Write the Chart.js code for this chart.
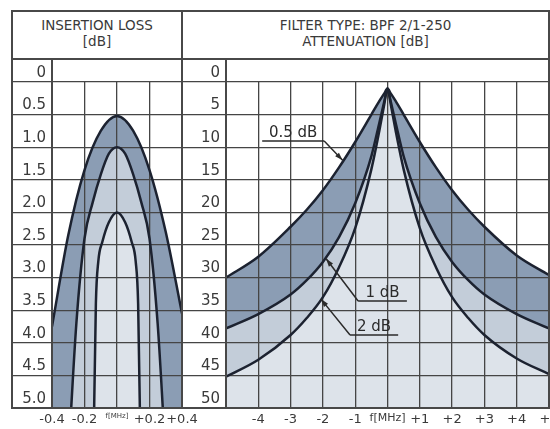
<!DOCTYPE html>
<html>
<head>
<meta charset="utf-8">
<script src="https://cdn.jsdelivr.net/npm/chart.js@4.4.1/dist/chart.umd.min.js"></script>
<style>
  body { margin: 0; background: #fff; width: 550px; height: 429px; overflow: hidden; position: relative;
         font-family: "DejaVu Sans", sans-serif; color: #3a3a3a; }
  .line { position: absolute; background: #484848; z-index: 2; }
  .head { position: absolute; top: 17px; text-align: center; font-size: 13.5px; line-height: 16px; z-index: 2; }
  .box { position: absolute; top: 59px; height: 370px; z-index: 1; }
</style>
</head>
<body>
<div class="head" style="left:12px;width:170px">INSERTION LOSS<br>[dB]</div>
<div class="head" style="left:182px;width:367px">FILTER TYPE: BPF 2/1-250<br>ATTENUATION [dB]</div>

<div class="line" style="left:11px;top:10px;width:539px;height:2px"></div>
<div class="line" style="left:11px;top:407px;width:539px;height:2px"></div>
<div class="line" style="left:11px;top:10px;width:2px;height:399px"></div>
<div class="line" style="left:548px;top:10px;width:2px;height:399px"></div>
<div class="line" style="left:11px;top:58px;width:539px;height:2px"></div>
<div class="line" style="left:181px;top:10px;width:2px;height:399px"></div>
<div class="line" style="left:51px;top:59px;width:2px;height:350px"></div>
<div class="line" style="left:225px;top:59px;width:2px;height:350px"></div>

<div class="box" style="left:0;width:200px"><canvas id="lossChart"></canvas></div>
<div class="box" style="left:182px;width:368px"><canvas id="attChart"></canvas></div>

<script>
// insertion loss [dB] vs f offset [MHz]
const lossFreq05 = [-0.4, -0.3, -0.2, -0.1, 0, 0.1, 0.2, 0.3, 0.4];
const loss05 = [3.75, 2.35, 1.35, 0.75, 0.52, 0.75, 1.35, 2.3, 3.55];
const lossFreq1 = [-0.3, -0.25, -0.2, -0.15, -0.1, -0.05, 0, 0.05, 0.1, 0.15, 0.2, 0.25, 0.3];
const loss1 = [5.8, 3.7, 2.4, 1.85, 1.42, 1.1, 1.0, 1.1, 1.42, 1.85, 2.4, 3.7, 5.8];
const lossFreq2 = [-0.15, -0.14, -0.13, -0.115, -0.09, -0.05, 0, 0.05, 0.09, 0.115, 0.13, 0.14, 0.15];
const loss2 = [7.0, 4.9, 3.4, 2.75, 2.45, 2.15, 2.0, 2.15, 2.45, 2.75, 3.4, 4.9, 7.0];

const lossTicks = [0, 0.5, 1, 1.5, 2, 2.5, 3, 3.5, 4, 4.5, 5];
const lossTickLabels = ['0', '0.5', '1.0', '1.5', '2.0', '2.5', '3.0', '3.5', '4.0', '4.5', '5.0'];
const lossFreqTicks = [-0.4, -0.2, 0, 0.2, 0.4];
const lossFreqLabels = ['-0.4', '-0.2', 'f[MHz]', '+0.2', '+0.4'];

// attenuation [dB] vs f offset [MHz]
const attFreq = [-5, -4, -3, -2.5, -2, -1.5, -1, -0.5, -0.25, -0.1, 0, 0.1, 0.25, 0.5, 1, 1.5, 2, 2.5, 3, 4, 5];
const att05 = [30, 26.8, 22.2, 19.6, 16.6, 13.1, 9.2, 5.0, 2.9, 1.75, 1.0, 1.75, 2.9, 5.0, 9.2, 13.1, 16.6, 19.6, 22.2, 26.6, 29.6];
const att1 = [37.8, 35.6, 32.6, 30.4, 27.6, 23.8, 18.6, 11.4, 6.2, 3.0, 1.0, 3.0, 6.2, 11.4, 18.6, 23.8, 27.6, 30.4, 32.6, 35.6, 37.8];
const att2 = [45.2, 42.6, 38.8, 36.2, 33.0, 28.4, 22.4, 13.4, 7.4, 3.4, 1.0, 3.4, 7.4, 13.4, 22.4, 28.4, 33.0, 36.2, 38.8, 42.4, 44.8];

const attTicks = [0, 5, 10, 15, 20, 25, 30, 35, 40, 45, 50];
const attTickLabels = ['0', '5', '10', '15', '20', '25', '30', '35', '40', '45', '50'];
const attFreqTicks = [-5, -4, -3, -2, -1, 0, 1, 2, 3, 4, 5];
const attFreqLabels = ['', '-4', '-3', '-2', '-1', 'f[MHz]', '+1', '+2', '+3', '+4', '+5'];

const attNotes = [
    { text: '0.5 dB', x0: -3.88, x1: -1.96, y: 9.05, from: 'end', tipX: -1.39, tipY: 12.0 },
    { text: '1 dB', x0: -0.91, x1: 0.6, y: 33.6, from: 'start', tipX: -1.9, tipY: 27.1 },
    { text: '2 dB', x0: -1.16, x1: 0.33, y: 38.8, from: 'start', tipX: -2.06, tipY: 33.3 }
];

const DARK = '#8b9db4';
const MID = '#c3cdd9';
const LIGHT = '#dde3ea';
const CURVE = '#1c2230';
const GRID = '#454545';
const FONT = '"DejaVu Sans", sans-serif';

function pts(xs, ys) {
    return xs.map((x, i) => ({ x: x, y: ys[i] }));
}

function curve(xs, ys, color) {
    return {
        data: pts(xs, ys),
        borderColor: CURVE,
        borderWidth: 2.5,
        backgroundColor: color,
        fill: 'start',
        pointRadius: 0,
        cubicInterpolationMode: 'monotone'
    };
}

function makeOptions(o) {
    return {
        responsive: true,
        maintainAspectRatio: false,
        animation: false,
        layout: { padding: { left: o.padLeft, right: o.padRight, top: 23, bottom: 0 } },
        plugins: {
            legend: { display: false },
            tooltip: { enabled: false },
            filler: { drawTime: 'beforeDraw' }
        },
        scales: {
            x: {
                type: 'linear',
                min: o.xTicks[0],
                max: o.xTicks[o.xTicks.length - 1],
                afterBuildTicks: s => { s.ticks = o.xTicks.map(v => ({ value: v })); },
                afterFit: s => { s.height = 21; s.paddingLeft = 0; s.paddingRight = 0; },
                border: { display: false },
                grid: { color: GRID, lineWidth: 1.3, drawTicks: false },
                ticks: {
                    autoSkip: false,
                    maxRotation: 0,
                    minRotation: 0,
                    padding: 4,
                    color: '#3a3a3a',
                    font: ctx => ({ family: FONT, size: ctx.index === o.xTicks.indexOf(0) ? o.midFont : 13 }),
                    callback: (v, i) => o.xLabels[i]
                }
            },
            y: {
                type: 'linear',
                reverse: true,
                min: o.yTicks[0],
                max: o.yTicks[o.yTicks.length - 1],
                afterBuildTicks: s => { s.ticks = o.yTicks.map(v => ({ value: v })); },
                afterFit: s => { s.width = o.yWidth; s.paddingTop = 0; s.paddingBottom = 0; },
                border: { display: false },
                grid: { color: GRID, lineWidth: 1.3, tickLength: o.yWidth },
                ticks: {
                    padding: 6 - o.yWidth,
                    labelOffset: -9,
                    color: '#3a3a3a',
                    font: { family: FONT, size: 15 },
                    callback: (v, i) => o.yLabels[i]
                }
            }
        }
    };
}

const notesPlugin = {
    id: 'notes',
    afterDatasetsDraw(chart) {
        const { ctx, scales: { x, y } } = chart;
        ctx.save();
        ctx.strokeStyle = '#2b2b2b';
        ctx.fillStyle = '#2b2b2b';
        ctx.lineWidth = 1.5;
        ctx.font = '15px ' + FONT;
        ctx.textAlign = 'center';
        attNotes.forEach(n => {
            const x0 = x.getPixelForValue(n.x0);
            const x1 = x.getPixelForValue(n.x1);
            const yl = y.getPixelForValue(n.y);
            const sx = n.from === 'end' ? x1 : x0;
            const tx = x.getPixelForValue(n.tipX);
            const ty = y.getPixelForValue(n.tipY);
            ctx.beginPath();
            ctx.moveTo(x0, yl);
            ctx.lineTo(x1, yl);
            ctx.moveTo(sx, yl);
            ctx.lineTo(tx, ty);
            ctx.stroke();
            // arrow head
            const a = Math.atan2(ty - yl, tx - sx);
            ctx.beginPath();
            ctx.moveTo(tx, ty);
            ctx.lineTo(tx - 8 * Math.cos(a) + 2.6 * Math.sin(a), ty - 8 * Math.sin(a) - 2.6 * Math.cos(a));
            ctx.lineTo(tx - 8 * Math.cos(a) - 2.6 * Math.sin(a), ty - 8 * Math.sin(a) + 2.6 * Math.cos(a));
            ctx.closePath();
            ctx.fill();
            ctx.fillText(n.text, (x0 + x1) / 2, yl - 4);
        });
        ctx.restore();
    }
};

new Chart(document.getElementById('lossChart'), {
    type: 'line',
    data: {
        datasets: [
            curve(lossFreq2, loss2, LIGHT),
            curve(lossFreq1, loss1, MID),
            curve(lossFreq05, loss05, DARK)
        ]
    },
    options: makeOptions({
        padLeft: 12, padRight: 18, yWidth: 40, midFont: 7,
        xTicks: lossFreqTicks, xLabels: lossFreqLabels,
        yTicks: lossTicks, yLabels: lossTickLabels
    })
});

new Chart(document.getElementById('attChart'), {
    type: 'line',
    data: {
        datasets: [
            curve(attFreq, att2, LIGHT),
            curve(attFreq, att1, MID),
            curve(attFreq, att05, DARK)
        ]
    },
    options: makeOptions({
        padLeft: 0, padRight: 1, yWidth: 44, midFont: 11,
        xTicks: attFreqTicks, xLabels: attFreqLabels,
        yTicks: attTicks, yLabels: attTickLabels
    }),
    plugins: [notesPlugin]
});
</script>
</body>
</html>
